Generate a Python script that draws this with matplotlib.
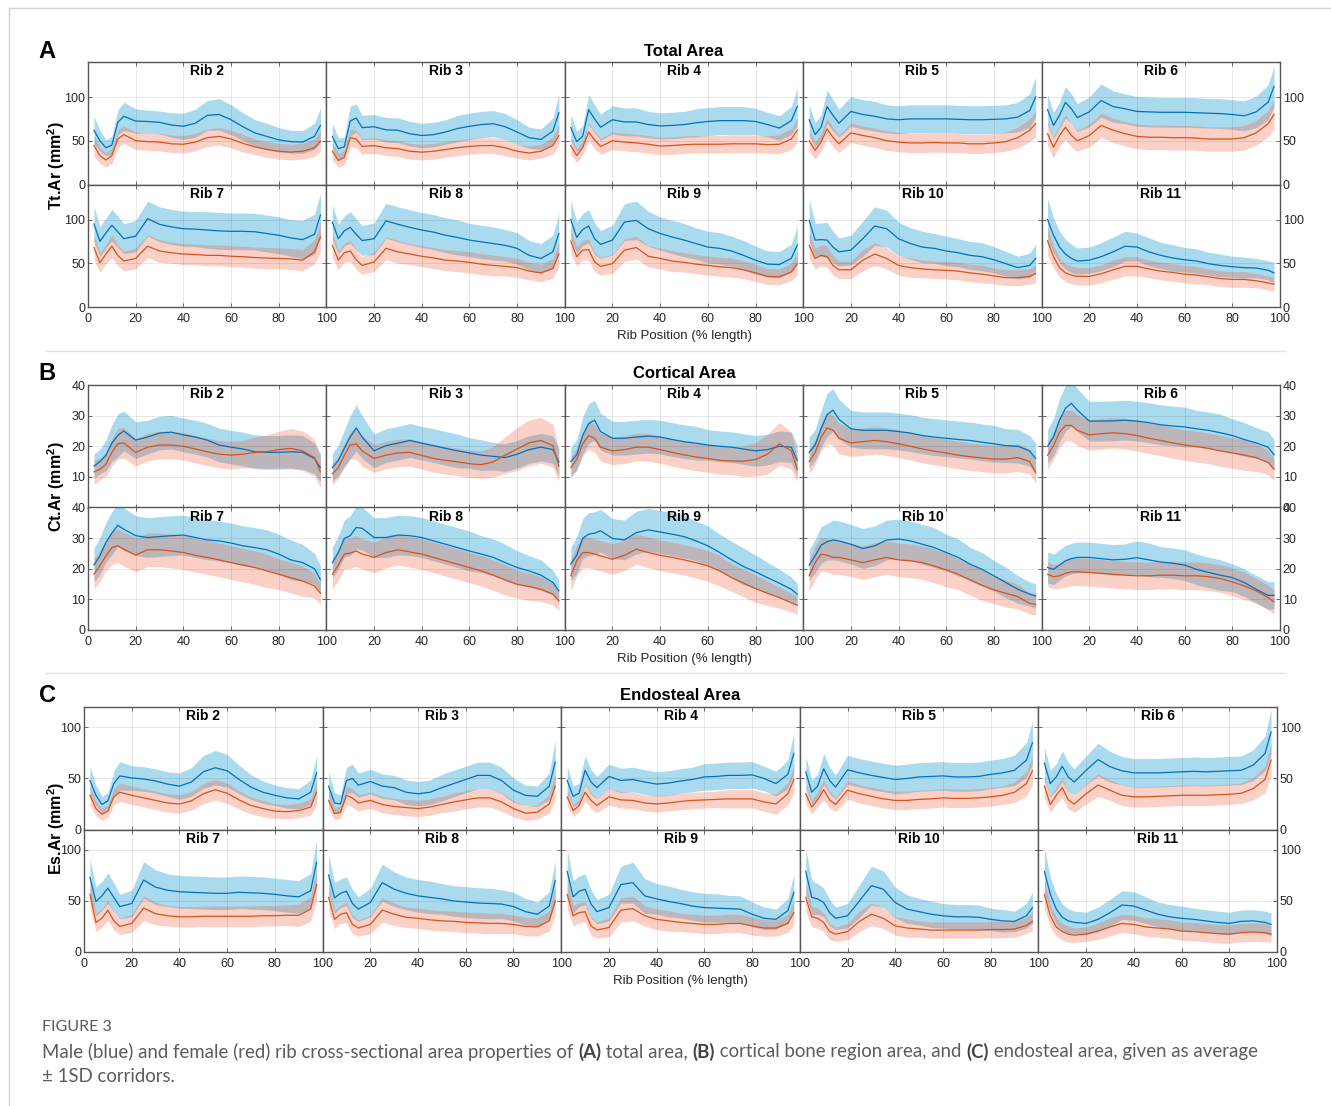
#
# Rib cross-sectional area corridors (male vs female), figure 3 remake
#
import numpy as np
import matplotlib
matplotlib.use("Agg")
import matplotlib.pyplot as plt
from matplotlib.lines import Line2D

plt.rcParams['font.family'] = ['Liberation Sans', 'DejaVu Sans']
plt.rcParams['mathtext.fontset'] = 'custom'
plt.rcParams['mathtext.rm'] = 'Liberation Sans'
plt.rcParams['mathtext.bf'] = 'Liberation Sans:bold'

# rib position (% length) where the curves were read
pos = [2.5, 5, 7.5, 10, 12.5, 15, 20, 25, 30, 35, 40, 45, 50, 55, 60, 65, 70, 75, 80, 85, 90, 95, 97.5]
ribs = [2, 3, 4, 5, 6, 7, 8, 9, 10, 11]

# ---- total area (mm^2), one list per rib ----
tt_male = [
    [62, 50, 42, 45, 71, 78, 72.5, 72, 71, 68, 66.5, 70, 79, 80, 74, 66, 59, 55, 51, 49, 48.5, 55, 67.5],
    [55, 41, 43, 72.5, 76, 65, 66, 62.5, 62, 58, 56, 57, 60, 64, 66.5, 68.5, 69.5, 66, 60, 53.5, 51.5, 61, 82],
    [65, 49, 55, 85.5, 75, 65.5, 74, 71.5, 71.5, 68.5, 67, 67.5, 68.5, 70.5, 72, 73, 73, 73, 72, 68.5, 64.5, 73, 89],
    [74, 57, 65.5, 89, 79, 70, 83.5, 80, 78, 75, 74, 75, 75, 75, 75, 74.5, 74, 74, 74.5, 75, 77, 84.5, 100],
    [85.5, 67.5, 79, 94, 86.5, 76.5, 83, 96, 89, 86.5, 83.5, 83, 82.5, 82.5, 82.5, 82, 81.5, 81, 80, 78.5, 83, 94, 112],
    [95, 75, 84.5, 93.5, 86, 78, 81, 101, 94.5, 91.5, 89.5, 89, 88, 87, 86.5, 86.5, 86, 84, 82, 79, 77, 83, 105],
    [97, 78, 87, 91, 83, 76, 78, 98.5, 94.5, 91, 88, 85.5, 82, 79.5, 76.5, 74.5, 72.5, 70.5, 67, 59, 55.5, 63, 84],
    [100, 79.5, 88.5, 92.5, 78, 71.5, 76.5, 97, 99, 89.5, 84, 80, 76.5, 72.5, 68.5, 67, 64, 59, 53.5, 49, 48.5, 55.5, 70.5],
    [99, 76.5, 77, 76.5, 68.5, 63, 65, 78, 92.5, 89.5, 78, 72.5, 68.5, 67, 64, 62, 59, 57.5, 54, 49.5, 45, 47.5, 55.5],
    [100, 82, 68.5, 60.5, 55.5, 52.5, 53.5, 57.5, 63, 69.5, 68.5, 63, 59, 56, 54, 52.5, 49.5, 47.5, 46, 45, 44.5, 42, 39],
]
tt_male_sd = [
    [16, 12, 9, 10, 14, 16, 14, 13, 13, 14, 15, 16, 17, 18, 17, 16, 15, 15, 14, 13, 13, 15, 20],
    [15, 12, 11, 17, 16, 14, 14, 14, 14, 14, 14, 14, 14, 15, 15, 15, 15, 15, 14, 12, 12, 15, 21],
    [15, 12, 12, 17, 16, 15, 16, 16, 16, 15, 15, 15, 15, 16, 16, 16, 16, 16, 15, 14, 14, 16, 21],
    [17, 14, 14, 19, 18, 16, 17, 17, 17, 16, 16, 16, 16, 16, 16, 16, 16, 16, 16, 16, 17, 19, 23],
    [17, 15, 15, 18, 17, 16, 17, 19, 18, 17, 17, 17, 17, 17, 17, 17, 17, 17, 17, 17, 18, 20, 23],
    [20, 17, 17, 18, 18, 17, 18, 20, 20, 20, 20, 20, 21, 21, 21, 21, 21, 21, 21, 21, 22, 23, 25],
    [20, 17, 17, 18, 18, 17, 18, 20, 20, 20, 20, 20, 20, 20, 19, 19, 19, 18, 18, 17, 17, 19, 23],
    [22, 18, 18, 19, 18, 16, 17, 21, 22, 20, 19, 19, 19, 18, 18, 18, 17, 17, 16, 15, 15, 16, 22],
    [24, 19, 19, 20, 18, 16, 17, 20, 22, 21, 19, 18, 18, 17, 17, 16, 16, 16, 15, 14, 13, 14, 16],
    [24, 20, 18, 17, 16, 15, 15, 16, 17, 17, 16, 16, 15, 15, 14, 14, 13, 13, 12, 12, 11, 11, 12],
]
tt_female = [
    [44.5, 33, 28, 33, 52, 57, 50, 49, 48.5, 46.5, 46, 48.5, 53.5, 55, 52, 47, 43, 40, 38, 37, 38, 42, 49.5],
    [38, 27.5, 31, 53.5, 52, 43.5, 44.5, 42, 41, 38, 37, 38, 40, 42, 43.5, 44.5, 44.5, 42, 38, 36, 38, 44.5, 56],
    [44.5, 33, 42, 60, 51, 43.5, 50, 48.5, 47.5, 46, 44, 44.5, 45.5, 46, 46, 46, 46.5, 46.5, 46.5, 45.5, 46, 52, 62],
    [50, 39, 48.5, 63.5, 54, 46.5, 59, 56, 53.5, 50, 48.5, 47.5, 47.5, 48, 47.5, 47.5, 46.5, 46.5, 47.5, 49, 53.5, 62, 69.5],
    [58, 42.5, 56, 65.5, 56, 50, 56, 67.5, 62, 58, 55, 54, 54, 53.5, 53.5, 53, 52, 52, 52, 53.5, 59, 69.5, 80],
    [68, 50.5, 60.5, 69.5, 59, 52.5, 55.5, 69.5, 64, 62, 60.5, 60, 59, 59, 58, 57.5, 56.5, 56, 55.5, 55, 53.5, 63, 80],
    [70.5, 53.5, 62, 64, 54, 47.5, 51.5, 67, 63, 60.5, 58, 56, 53.5, 52.5, 51, 49, 47.5, 46.5, 45, 41, 39, 44, 60.5],
    [75.5, 57.5, 65, 65.5, 51.5, 46.5, 49.5, 65, 68, 58, 55.5, 52.5, 51, 49, 47.5, 46, 45, 42.5, 39, 35, 34.5, 40, 49.5],
    [70.5, 55.5, 59, 57.5, 47.5, 42.5, 42.5, 53.5, 60.5, 55.5, 47.5, 45, 43.5, 42.5, 42, 41, 39, 37.5, 35.5, 33.5, 33.5, 35, 38],
    [75.5, 57.5, 45, 39, 36.5, 35, 35, 38, 42.5, 46.5, 46.5, 43.5, 41, 39.5, 37.5, 36.5, 34.5, 32.5, 31.5, 31.5, 30, 27.5, 26],
]
tt_female_sd = [
    [12, 9, 8, 9, 10, 10, 10, 10, 10, 10, 10, 10, 10, 10, 10, 10, 9, 9, 9, 9, 9, 10, 12],
    [10, 8, 8, 10, 10, 9, 9, 9, 9, 9, 9, 9, 9, 9, 9, 9, 9, 9, 8, 8, 8, 10, 12],
    [10, 8, 8, 10, 10, 9, 10, 10, 10, 10, 10, 10, 10, 10, 10, 10, 10, 10, 10, 10, 11, 12, 14],
    [12, 10, 10, 12, 11, 10, 11, 11, 11, 11, 11, 11, 11, 11, 11, 11, 11, 11, 11, 11, 12, 13, 15],
    [14, 12, 12, 14, 13, 12, 13, 14, 14, 14, 14, 14, 14, 14, 14, 14, 14, 14, 14, 14, 14, 15, 17],
    [14, 11, 11, 13, 12, 11, 12, 13, 13, 12, 12, 12, 12, 12, 12, 12, 12, 12, 12, 12, 12, 14, 17],
    [14, 11, 11, 12, 11, 10, 11, 13, 13, 12, 12, 12, 12, 12, 12, 12, 12, 11, 11, 10, 10, 11, 14],
    [14, 11, 11, 12, 11, 10, 11, 13, 13, 12, 12, 12, 11, 11, 11, 11, 11, 10, 10, 9, 9, 10, 13],
    [15, 12, 12, 12, 11, 10, 10, 12, 13, 12, 11, 11, 10, 10, 10, 10, 10, 10, 9, 9, 9, 9, 10],
    [16, 13, 11, 10, 10, 10, 10, 10, 11, 11, 11, 10, 10, 10, 10, 10, 9, 9, 9, 9, 8, 8, 8],
]

# ---- cortical area (mm^2) ----
ct_male = [
    [13.5, 15, 17, 21, 23.5, 25, 22, 23, 24.3, 24.6, 23.7, 23, 22, 20.4, 19.7, 19.1, 18.2, 18, 18, 18.2, 18, 16, 13],
    [13, 15.4, 19.3, 23, 26, 23, 18.5, 20.2, 21, 21.9, 21, 20.2, 19.3, 18.5, 17.8, 17.1, 16.7, 16.3, 17.4, 18.9, 19.7, 18.9, 14.9],
    [15, 17.2, 23.5, 27.4, 28.5, 24.8, 22.6, 22.6, 23, 23.3, 23, 22.2, 21.5, 21, 20.4, 20, 19.7, 19.1, 18.5, 18.9, 20, 19.7, 15.3],
    [18, 20.4, 25.7, 30.3, 31.8, 28.8, 25.7, 25.2, 25.2, 25.2, 24.8, 24.3, 23.5, 23, 22.6, 22.2, 21.9, 21.3, 20.8, 20.2, 20, 18.5, 16],
    [20, 23, 28.5, 32.4, 34, 31.8, 28.2, 28.2, 28.3, 28.5, 28.2, 27.7, 27, 26.6, 26.3, 25.7, 25.2, 24.4, 23.5, 22.2, 21.1, 19.7, 17.2],
    [21.2, 24.2, 28.6, 31.6, 34.2, 32.9, 30.8, 30.2, 30.5, 30.8, 31, 30.2, 29.4, 29.1, 28.4, 27.5, 26.9, 26.2, 24.8, 22.9, 22, 20, 16.4],
    [22, 25.3, 29.9, 30.8, 33.5, 33.2, 30.2, 30.2, 31, 30.8, 30.2, 29.1, 28, 26.9, 25.8, 24.8, 23.7, 22, 20.4, 19.3, 17.9, 15.5, 12.8],
    [21.5, 24.4, 29.9, 31.3, 31.6, 32.4, 29.9, 29.4, 31.8, 32.7, 32, 31.3, 30.5, 29.1, 27.5, 25.3, 22.9, 20.7, 19, 17.1, 15.3, 13.3, 11.7],
    [21.2, 24.2, 27.7, 28.8, 29.4, 29.1, 28, 26.6, 27.5, 29.4, 29.7, 29.1, 28, 26.9, 25.3, 23.7, 21.5, 19.8, 17.7, 15.5, 13.3, 11.7, 11.1],
    [20.4, 19.8, 21.2, 22.6, 23.3, 23.7, 23.7, 23.3, 22.9, 23.1, 23.6, 22.9, 22.2, 21.8, 21.2, 19.8, 18.8, 17.9, 17.1, 15.5, 13.3, 11.3, 11.3],
]
ct_male_sd = [
    [4, 4, 5, 6, 7, 6.5, 6, 5.5, 5.5, 5.5, 5.5, 5.5, 5.5, 5.5, 5.5, 5.5, 5.5, 5.5, 5.5, 5.5, 5.5, 5, 4.5],
    [4.5, 5, 6, 7, 7.5, 7, 5.5, 5.5, 5.5, 5.5, 5.5, 5.5, 5.5, 5.5, 5, 5, 4.5, 4.5, 4.5, 4.5, 4.5, 4.5, 4.5],
    [4.5, 5, 6, 6.5, 6.5, 6, 5.5, 5.5, 5.5, 5.5, 5.5, 5.5, 5.5, 5.5, 5, 5, 5, 5, 5, 5, 5, 5, 5],
    [5, 5, 6, 7, 7, 6.5, 6, 6, 6, 6, 6, 6, 6, 6, 6, 6, 6, 6, 6, 5.5, 5.5, 5, 5],
    [5.5, 6, 7, 7.5, 7.5, 7, 6.5, 6.5, 6.5, 6.5, 6.5, 6.5, 6.5, 6.5, 6.5, 6, 6, 6, 5.5, 5.5, 5, 5, 5],
    [5.5, 6, 6.5, 7, 7, 7, 6.5, 6.5, 6.5, 6.5, 6.5, 6.5, 6.5, 6.5, 6.5, 6.5, 6.5, 6.5, 6.5, 6.5, 6, 5, 4.5],
    [5, 5.5, 6, 6.5, 7, 7, 6.5, 6.5, 6.5, 6.5, 6.5, 6.5, 6.5, 6.5, 6.5, 6, 6, 6, 5.5, 5, 5, 4, 3.5],
    [5.5, 6, 6.5, 7, 7, 7, 6.5, 6.5, 7, 7, 7, 7, 7, 6.5, 6.5, 6, 6, 6, 5.5, 5, 4.5, 4, 3.5],
    [5, 5.5, 6, 6, 6.5, 6.5, 6.5, 6.5, 6.5, 6.5, 6.5, 6.5, 6.5, 6.5, 6, 6, 5.5, 5.5, 5, 5, 4.5, 4, 4],
    [5, 5, 5, 5, 5, 5, 5, 5, 5, 5, 5.5, 5.5, 5, 5, 5, 5, 5, 5, 4.5, 4.5, 4.5, 4.5, 4.5],
]
ct_female = [
    [11.6, 12.5, 14.1, 18, 20.8, 21.1, 18, 19.7, 20.4, 20.4, 20, 19.1, 18.2, 17.4, 17.1, 17.4, 18, 18.2, 18.9, 19.3, 18.5, 16.3, 11.6],
    [11, 13, 17, 20.4, 20.8, 18.5, 16, 17.1, 17.8, 18, 17, 16, 15.4, 14.9, 14.3, 14, 14.9, 17.1, 19.1, 21.1, 21.9, 20.2, 13.6],
    [13, 15.7, 20.8, 23.5, 22.6, 19.7, 18.5, 18.9, 19.7, 19.7, 18.9, 18, 17.2, 16.5, 16, 15.4, 15.2, 15.1, 15.7, 17.4, 20.8, 18.5, 12.5],
    [15, 18, 23, 26, 25.2, 22.6, 21.1, 21.5, 21.9, 21.5, 20.8, 20, 19.1, 18.4, 17.8, 17.1, 16.6, 16.2, 15.8, 15.8, 16.3, 15, 11.4],
    [17, 20.2, 24.6, 26.8, 26.8, 25.2, 23.7, 24.1, 24.4, 24.1, 23.5, 22.6, 21.9, 21.1, 20.4, 19.9, 19.3, 18.5, 17.8, 17.1, 16.3, 14.7, 12.5],
    [18.2, 21, 24.2, 26.9, 27.5, 26.4, 24.5, 26.2, 26.2, 25.8, 25.3, 24.4, 23.7, 22.9, 22, 21.2, 20.4, 19.3, 18.2, 17.1, 16, 14.4, 12],
    [18.2, 21.2, 24.8, 25.1, 25.8, 24.8, 23.7, 25.3, 26.2, 25.5, 24.8, 23.7, 22.6, 21.5, 20.4, 19.3, 17.9, 16.4, 14.9, 14.2, 13.3, 11.7, 9.5],
    [17.7, 22.6, 25.3, 25.3, 24.8, 24.2, 23.1, 24.4, 26.4, 25.3, 24.4, 23.7, 22.9, 22, 20.9, 19.3, 17.1, 15.3, 13.5, 12, 10.6, 8.9, 8.1],
    [17.7, 22, 24.8, 24.4, 23.7, 23.7, 22.9, 22, 22.9, 23.7, 22.9, 22.6, 22, 20.9, 19.6, 18.2, 16.4, 14.6, 13.1, 12, 10.9, 8.7, 8.4],
    [18.2, 17.4, 17.7, 18.5, 19, 19, 18.8, 18.5, 18.2, 17.9, 17.7, 17.7, 17.9, 17.9, 17.7, 17.7, 17.4, 16.8, 15.7, 14.4, 12.8, 10.6, 9.2],
]
ct_female_sd = [
    [4, 3.5, 4, 4.5, 5, 5, 4.5, 4.5, 4.5, 4.5, 4.5, 4.5, 4.5, 4.5, 4.5, 4.5, 5, 5.5, 6, 6.5, 6.5, 6, 5],
    [3.5, 3.5, 4, 4.5, 5, 5, 4.5, 4.5, 4.5, 4.5, 4.5, 4.5, 4.5, 4.5, 4.5, 4.5, 5, 6, 7, 7.5, 7.5, 7, 5],
    [3.5, 3.5, 4, 4.5, 4.5, 4.5, 4.5, 4.5, 4.5, 4.5, 4.5, 4.5, 4.5, 4.5, 4.5, 4.5, 4.5, 5, 5.5, 6.5, 7, 6, 4],
    [4, 4, 4.5, 5, 5, 5, 4.5, 4.5, 4.5, 4.5, 4.5, 4.5, 4.5, 4.5, 4.5, 4.5, 4.5, 4.5, 4.5, 4.5, 4.5, 4, 3.5],
    [4.5, 4.5, 5, 5, 5, 5, 5, 5, 5, 5, 5, 5, 5, 5, 5, 5, 5, 5, 5, 5, 4.5, 4, 3.5],
    [5, 5, 5, 5.5, 5.5, 5.5, 5.5, 5.5, 5.5, 5.5, 5.5, 5.5, 5.5, 5.5, 5.5, 5.5, 5.5, 5.5, 5, 5, 5, 4, 3.5],
    [5, 5, 5, 5, 5, 5, 5, 5, 5, 5, 5, 5, 5, 5, 5, 5, 5, 5, 4.5, 4.5, 4, 3.5, 3],
    [5, 5, 5, 5, 5, 5, 5, 5, 5, 5, 5, 5, 5, 5, 5, 5, 4.5, 4.5, 4.5, 4, 3.5, 3, 3],
    [5, 5.5, 5.5, 5.5, 5.5, 5.5, 5.5, 5.5, 5.5, 5.5, 5.5, 5.5, 5.5, 5.5, 5.5, 5, 5, 5, 4.5, 4.5, 4, 3.5, 3.5],
    [4, 4, 4, 4.5, 4.5, 4.5, 4.5, 4.5, 4.5, 4.5, 4.5, 4.5, 4.5, 4.5, 4.5, 4.5, 4.5, 4.5, 4.5, 4.5, 4, 4, 4],
]

# ---- endosteal area (mm^2) ----
es_male = [
    [48, 33.5, 24.5, 28, 45, 52.5, 50.5, 49.5, 47.5, 44.5, 42.5, 46.5, 56.5, 60.5, 57.5, 49, 41.5, 36.5, 33.5, 31, 30, 36.5, 55.5],
    [42.5, 26, 25, 48, 50, 43.5, 47, 42.5, 41, 36.5, 35, 36.5, 41, 45, 49, 53, 53, 48, 38.5, 33.5, 32.5, 42.5, 66],
    [48, 32.5, 35.5, 58, 46.5, 41, 52, 48, 49, 46.5, 44.5, 45.5, 47.5, 49, 51.5, 52, 53, 53, 53.5, 50, 45, 54, 74.5],
    [56.5, 36.5, 42.5, 59.5, 48, 41.5, 58.5, 55.5, 53, 51, 49, 50, 51.5, 52, 52.5, 51.5, 51.5, 52, 54, 55.5, 58, 68, 85],
    [65, 45, 51.5, 62, 51.5, 46.5, 58, 68.5, 61.5, 57.5, 55.5, 55.5, 55.5, 56, 56.5, 57, 56.5, 57, 57.5, 58, 63, 74.5, 95.5],
    [73, 49.5, 55, 62.5, 53.5, 44.5, 47.5, 70.5, 63.5, 60.5, 59, 58.5, 58, 57.5, 57.5, 58.5, 58, 57.5, 56.5, 55, 54, 60, 88],
    [75.5, 53, 57.5, 59.5, 47.5, 42, 48.5, 68, 61.5, 57.5, 55, 53.5, 52, 50, 49, 48, 47.5, 47, 44.5, 39.5, 37, 45, 70],
    [79, 54, 59.5, 61.5, 47, 39.5, 43.5, 66, 68, 55, 52, 49.5, 47.5, 45, 43.5, 43, 42.5, 42, 37, 33, 32, 40.5, 58.5],
    [79, 53.5, 52, 48.5, 38.5, 33, 35.5, 50, 65, 61.5, 48.5, 42, 39.5, 37, 35.5, 34.5, 34.5, 34, 32, 30.5, 30, 35.5, 43.5],
    [79, 56.5, 42, 34, 30.5, 29, 28, 32, 38.5, 46, 45, 41, 37, 34.5, 33, 32, 30.5, 29, 28, 30, 30.5, 29, 27],
]
es_male_sd = [
    [14, 10, 8, 8, 12, 14, 12, 12, 12, 12, 13, 14, 16, 17, 16, 14, 12, 11, 10, 10, 10, 12, 17],
    [14, 10, 9, 13, 14, 12, 12, 12, 12, 12, 12, 12, 13, 13, 13, 13, 13, 13, 12, 10, 10, 13, 22],
    [14, 10, 10, 14, 12, 11, 12, 12, 12, 12, 12, 12, 12, 12, 13, 13, 13, 13, 13, 12, 12, 14, 20],
    [15, 12, 12, 15, 13, 12, 14, 14, 14, 14, 14, 14, 14, 14, 14, 14, 14, 14, 14, 14, 15, 17, 21],
    [16, 13, 13, 15, 14, 13, 14, 16, 15, 14, 14, 14, 14, 14, 14, 14, 14, 14, 14, 14, 15, 17, 22],
    [18, 14, 14, 15, 14, 12, 13, 18, 17, 16, 16, 16, 16, 16, 16, 16, 16, 16, 16, 16, 16, 17, 22],
    [20, 15, 14, 14, 14, 12, 14, 18, 17, 16, 16, 16, 15, 15, 15, 15, 15, 14, 14, 13, 12, 14, 20],
    [22, 16, 15, 15, 14, 12, 13, 18, 20, 17, 15, 15, 14, 14, 14, 14, 13, 13, 12, 11, 10, 12, 18],
    [22, 17, 15, 14, 13, 11, 12, 16, 19, 18, 15, 14, 13, 13, 12, 12, 12, 12, 11, 11, 10, 12, 15],
    [22, 17, 15, 13, 12, 11, 11, 12, 13, 14, 14, 13, 12, 12, 12, 11, 11, 11, 11, 11, 11, 11, 11],
]
es_female = [
    [33.5, 20.5, 15, 18, 32, 36.5, 33.5, 31, 28.5, 26, 25, 28, 35, 39, 35.5, 29, 23.5, 20.5, 18, 17.5, 18.5, 22, 36.5],
    [28.5, 15.5, 17, 33.5, 31, 26, 28.5, 24.5, 22.5, 21.5, 20.5, 22, 24.5, 27, 29, 31, 31, 27, 20.5, 16, 17, 25, 42.5],
    [32, 18.5, 23.5, 36.5, 28.5, 23.5, 32, 29, 28.5, 26, 25, 26, 27.5, 28.5, 29, 29.5, 30, 30, 30, 27, 25, 35, 49],
    [35, 22, 29, 39, 29, 24.5, 38.5, 35, 32.5, 30, 28.5, 28.5, 29.5, 30, 31, 30.5, 30.5, 31, 32, 33.5, 36.5, 45, 57.5],
    [42.5, 24.5, 33.5, 41, 29, 25, 35, 43.5, 38.5, 33.5, 32, 32, 32.5, 33, 33.5, 33.5, 33.5, 34, 34.5, 35.5, 40, 49, 68],
    [56.5, 29, 33, 41, 30.5, 25, 28, 43, 37.5, 35.5, 34.5, 34.5, 35, 35, 35, 35, 35, 35.5, 35.5, 36, 36, 42, 66],
    [53.5, 32, 37, 38.5, 27, 23.5, 27, 41, 37, 34, 33, 31.5, 30.5, 30, 29, 28.5, 28, 28, 27, 25, 24.5, 30.5, 50],
    [56.5, 35.5, 38.5, 39.5, 25.5, 21.5, 24, 41, 42.5, 35.5, 32, 30.5, 29, 28, 27, 27, 28, 28, 25.5, 23.5, 23.5, 28, 38.5],
    [53.5, 34.5, 33, 29, 20, 17.5, 20, 30, 37, 33, 25.5, 23.5, 22.5, 21.5, 21.5, 21.5, 21.5, 21.5, 22, 22, 22.5, 26, 30],
    [56.5, 35.5, 24.5, 20, 17.5, 16.5, 17.5, 20.5, 24.5, 28, 27, 24.5, 23.5, 22.5, 20.5, 20, 19, 18, 17.5, 19, 19.5, 19, 17.5],
]
es_female_sd = [
    [10, 7, 6, 6, 8, 9, 9, 9, 9, 9, 9, 9, 10, 10, 10, 9, 8, 8, 7, 7, 7, 8, 12],
    [9, 6, 6, 9, 9, 8, 8, 8, 8, 8, 8, 8, 8, 9, 9, 9, 9, 9, 8, 7, 7, 9, 13],
    [9, 6, 6, 9, 8, 7, 8, 8, 8, 8, 8, 8, 8, 8, 8, 8, 9, 9, 9, 9, 10, 11, 13],
    [10, 7, 7, 10, 8, 7, 9, 9, 9, 9, 9, 9, 9, 9, 9, 9, 9, 9, 9, 9, 10, 12, 14],
    [11, 8, 8, 10, 9, 8, 10, 11, 10, 10, 10, 10, 10, 10, 10, 10, 10, 10, 10, 10, 11, 13, 16],
    [13, 9, 9, 10, 9, 8, 9, 12, 11, 10, 10, 10, 10, 10, 10, 10, 10, 10, 10, 10, 11, 12, 15],
    [13, 9, 9, 10, 9, 8, 9, 12, 11, 10, 10, 10, 10, 10, 10, 10, 10, 10, 9, 9, 9, 10, 14],
    [14, 10, 10, 10, 9, 8, 9, 12, 12, 10, 10, 10, 9, 9, 9, 9, 9, 9, 9, 8, 8, 9, 12],
    [14, 10, 10, 9, 8, 7, 8, 10, 11, 10, 9, 9, 8, 8, 8, 8, 8, 8, 8, 8, 8, 8, 9],
    [14, 11, 9, 8, 8, 7, 7, 8, 9, 9, 9, 9, 9, 9, 9, 9, 9, 9, 9, 9, 9, 9, 8],
]

W, H = 1331, 1106
MALE_LINE = '#0072BD'
FEMALE_LINE = '#D95319'
MALE_FILL = (12/255, 149/255, 206/255)
FEMALE_FILL = (238/255, 88/255, 55/255)
TXT = '#262626'

fig = plt.figure(figsize=(W/100, H/100), dpi=100)


def px_axes(x0, y0, w, h):
    # axes placed with pixel coords measured from the top-left corner
    return fig.add_axes([x0/W, 1 - (y0 + h)/H, w/W, h/H])


def draw_cell(ax, i, m, ms, f, fs, ylim, yticks):
    m, ms, f, fs = map(np.array, (m, ms, f, fs))
    ax.fill_between(pos, m - ms, m + ms, color=MALE_FILL, alpha=0.35, lw=0)
    ax.plot(pos, m, color=MALE_LINE, lw=0.9)
    ax.fill_between(pos, f - fs, f + fs, color=FEMALE_FILL, alpha=0.28, lw=0)
    ax.plot(pos, f, color=FEMALE_LINE, lw=0.9)
    ax.set_xlim(0, 100)
    ax.set_ylim(*ylim)
    ax.set_xticks([0, 20, 40, 60, 80, 100])
    ax.set_yticks(yticks)
    ax.grid(True, color='k', alpha=0.09, lw=0.7)
    for s in ax.spines.values():
        s.set_color('#555555')
        s.set_linewidth(1.0)
    ax.tick_params(direction='in', length=3, width=0.6, color='#555555',
                   top=True, right=True, labelsize=9, labelcolor=TXT, pad=2)
    ax.tick_params(axis='x', pad=4)
    ax.text(0.5, 0.925, 'Rib %d' % ribs[i], transform=ax.transAxes,
            ha='center', va='center', fontsize=10, fontweight='bold', color='k')


def draw_panel(letter, title, ylabel, top, left, right, ylim, yticks,
               male, male_sd, female, female_sd, ylab_y, hide_top0=False):
    cw = (right - left) / 5.0
    rh = 122.5
    for row in range(2):
        for col in range(5):
            i = row*5 + col
            ax = px_axes(left + col*cw, top + row*rh, cw, rh)
            draw_cell(ax, i, male[i], male_sd[i], female[i], female_sd[i], ylim, yticks)
            # x labels only on the bottom row, the shared 0 is dropped after the first column
            if row == 1:
                xl = ['0', '20', '40', '60', '80', '100'] if col == 0 else ['', '20', '40', '60', '80', '100']
                ax.set_xticklabels(xl)
            else:
                ax.tick_params(labelbottom=False)
            ylab = [str(v) for v in yticks]
            if hide_top0 and row == 0 and col == 0:
                ylab[0] = ''
            ax.set_yticklabels(ylab)
            ax.tick_params(labelleft=(col == 0), labelright=(col == 4))
    mid = (left + right) / 2.0
    fig.text(mid/W, 1 - (top - 11)/H, title, ha='center', va='center',
             fontsize=12, fontweight='bold', color='k')
    fig.text(47/W, 1 - (top - 11)/H, letter, ha='center', va='center',
             fontsize=17, fontweight='bold', color='k')
    fig.text(mid/W, 1 - (top + 2*rh + 29)/H, 'Rib Position (% length)',
             ha='center', va='center', fontsize=9.5, color=TXT)
    fig.text(56/W, 1 - ylab_y/H, ylabel, rotation=90, ha='center', va='center',
             fontsize=11.5, fontweight='bold', color='k')


draw_panel('A', 'Total Area', r'Tt.Ar (mm$^{\mathbf{2}}$)', 62, 88, 1280, (0, 140), [0, 50, 100],
           tt_male, tt_male_sd, tt_female, tt_female_sd, 166)
draw_panel('B', 'Cortical Area', r'Ct.Ar (mm$^{\mathbf{2}}$)', 385, 88, 1280, (0, 40), [0, 10, 20, 30, 40],
           ct_male, ct_male_sd, ct_female, ct_female_sd, 487, hide_top0=True)
draw_panel('C', 'Endosteal Area', r'Es.Ar (mm$^{\mathbf{2}}$)', 707, 84, 1277, (0, 120), [0, 50, 100],
           es_male, es_male_sd, es_female, es_female_sd, 828)

# light frame and separators of the figure box
frame = '#d4d4d4'
fig.add_artist(Line2D([9/W, 1], [1 - 8/H, 1 - 8/H], color=frame, lw=1))
fig.add_artist(Line2D([9/W, 9/W], [0, 1 - 8/H], color=frame, lw=1))
for yy in (351, 673):
    fig.add_artist(Line2D([45/W, 1285/W], [1 - yy/H, 1 - yy/H], color='#e2e2e2', lw=1))

# caption, drawn piece by piece so the bold parts sit inline
cap_font = ['Lato', 'DejaVu Sans']
cap_color = '#5c5c5c'
renderer = fig.canvas.get_renderer()


def text_width(txt, size, bold):
    kw = dict(fontsize=size, family=cap_font, fontweight='bold' if bold else 'normal')
    a = fig.text(0, 0, 'x' + txt + 'x', **kw)
    b = fig.text(0, 0, 'xx', **kw)
    w = a.get_window_extent(renderer).width - b.get_window_extent(renderer).width
    a.remove()
    b.remove()
    return w


def rich_line(x, y, parts, size):
    for txt, bold in parts:
        fig.text(x/W, 1 - y/H, txt, fontsize=size, family=cap_font,
                 fontweight='bold' if bold else 'normal',
                 color='#444444' if bold else cap_color, va='center', ha='left')
        x += text_width(txt, size, bold)


line1 = [('Male (blue) and female (red) rib cross-sectional area properties of ', False),
         ('(A)', True), (' total area, ', False), ('(B)', True),
         (' cortical bone region area, and ', False), ('(C)', True),
         (' endosteal area, given as average', False)]
w10 = sum(text_width(t, 10, b) for t, b in line1)
cap_size = 10 * 1216.0 / w10

fig.text(42/W, 1 - 1027/H, 'FIGURE 3', fontsize=11.5, family=cap_font,
         color='#58595b', va='center', ha='left')
rich_line(42, 1052, line1, cap_size)
rich_line(42, 1076, [('\u00b1 1SD corridors.', False)], cap_size)

fig.savefig('out.png', dpi=100)
